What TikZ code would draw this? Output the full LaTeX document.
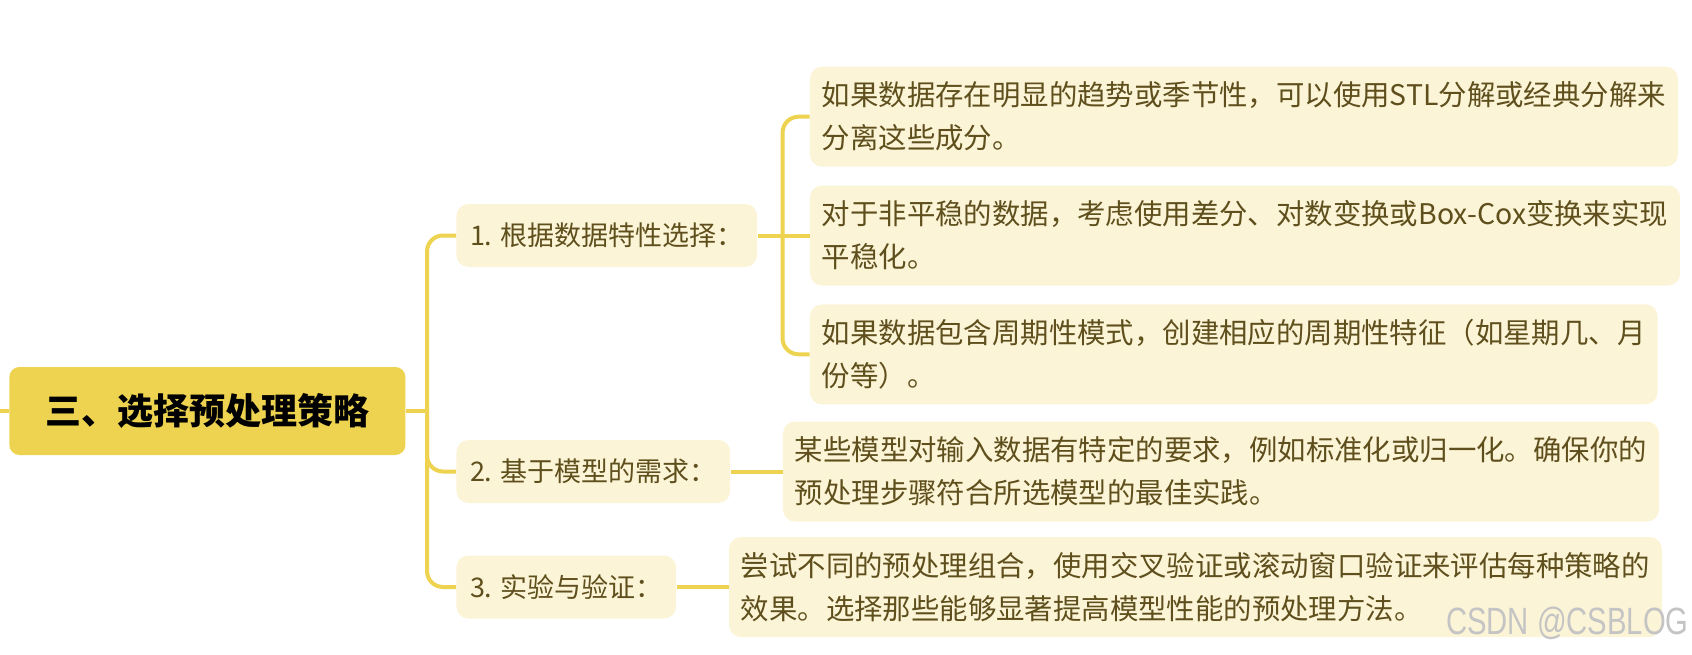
\documentclass[tikz,border=0pt]{standalone}
\usepackage{fontspec}
\setmainfont{Noto Sans CJK SC}
\newfontfamily\markfont{Liberation Sans}
\usetikzlibrary{positioning}
\definecolor{mapYellow}{HTML}{EDD34F}
\definecolor{lightCream}{HTML}{FCF4D7}
\definecolor{oliveText}{HTML}{5E4F1C}
\definecolor{markGray}{HTML}{C4C4C4}
\tikzset{
    topic/.style={
        rectangle,
        rounded corners=5pt,
        fill=mapYellow,
        text=black,
        font=\fontsize{18}{22}\selectfont\bfseries,
        minimum width=198pt,
        minimum height=44pt
    },
    branch/.style={
        rectangle,
        rounded corners=6pt,
        fill=lightCream,
        text=oliveText,
        font=\fontsize{13.5}{20}\selectfont,
        inner xsep=6.8pt,
        minimum height=31.5pt
    },
    detail/.style={
        rectangle,
        rounded corners=6pt,
        fill=lightCream,
        text=oliveText,
        align=left,
        font=\fontsize{14.2}{21.5}\selectfont,
        inner xsep=6pt,
        minimum height=50pt
    },
    watermark/.style={
        text=markGray,
        font=\markfont\fontsize{19}{22}\selectfont,
        xscale=0.77,
        transform shape,
        inner sep=0pt
    },
    link/.style={draw=mapYellow, line width=2pt, rounded corners=8pt}
}

\begin{document}
\begin{tikzpicture}[node distance=26pt]
    \useasboundingbox (0,0) rectangle (846pt,-327pt);

    \node[topic, anchor=west] (root) at (4.5pt,-205.5pt) {三、选择预处理策略};
    \coordinate (lead) at (0,-205.5pt);
    \coordinate (jct) at (213.5pt,-205.5pt);

    \node[branch, anchor=west] (n1) at (228pt,-117.75pt) {1. 根据数据特性选择：};
    \node[branch, anchor=west] (n2) at (228pt,-235.75pt) {2. 基于模型的需求：};
    \node[branch, anchor=west] (n3) at (228pt,-293.5pt) {3. 实验与验证：};

    \node[detail, right=of n1] (c1b)
        {对于非平稳的数据，考虑使用差分、对数变换或Box-Cox变换来实现\\平稳化。};
    \node[detail, above=9pt of c1b.north west, anchor=south west] (c1a)
        {如果数据存在明显的趋势或季节性，可以使用STL分解或经典分解来\\分离这些成分。};
    \node[detail, below=9pt of c1b.south west, anchor=north west] (c1c)
        {如果数据包含周期性模式，创建相应的周期性特征（如星期几、月\\份等）。};
    \node[detail, right=of n2] (c2)
        {某些模型对输入数据有特定的要求，例如标准化或归一化。确保你的\\预处理步骤符合所选模型的最佳实践。};
    \node[detail, right=of n3] (c3)
        {尝试不同的预处理组合，使用交叉验证或滚动窗口验证来评估每种策略的\\效果。选择那些能够显著提高模型性能的预处理方法。};
    \coordinate[right=12.5pt of n1.east] (fork);

    \draw[link] (lead) -- (root.west);
    \draw[link] (root.east) -- (jct);
    \draw[link] (jct) |- (n1.west);
    \draw[link] (jct) |- (n2.west);
    \draw[link] (jct) |- (n3.west);

    \draw[link] (n1.east) -- (c1b.west);
    \draw[link] (fork) |- (c1a.west);
    \draw[link] (fork) |- (c1c.west);
    \draw[link] (n2.east) -- (c2.west);
    \draw[link] (n3.east) -- (c3.west);

    \node[watermark, anchor=east] (wm) at (844.5pt,-311.75pt) {CSDN @CSBLOG};
\end{tikzpicture}
\end{document}
